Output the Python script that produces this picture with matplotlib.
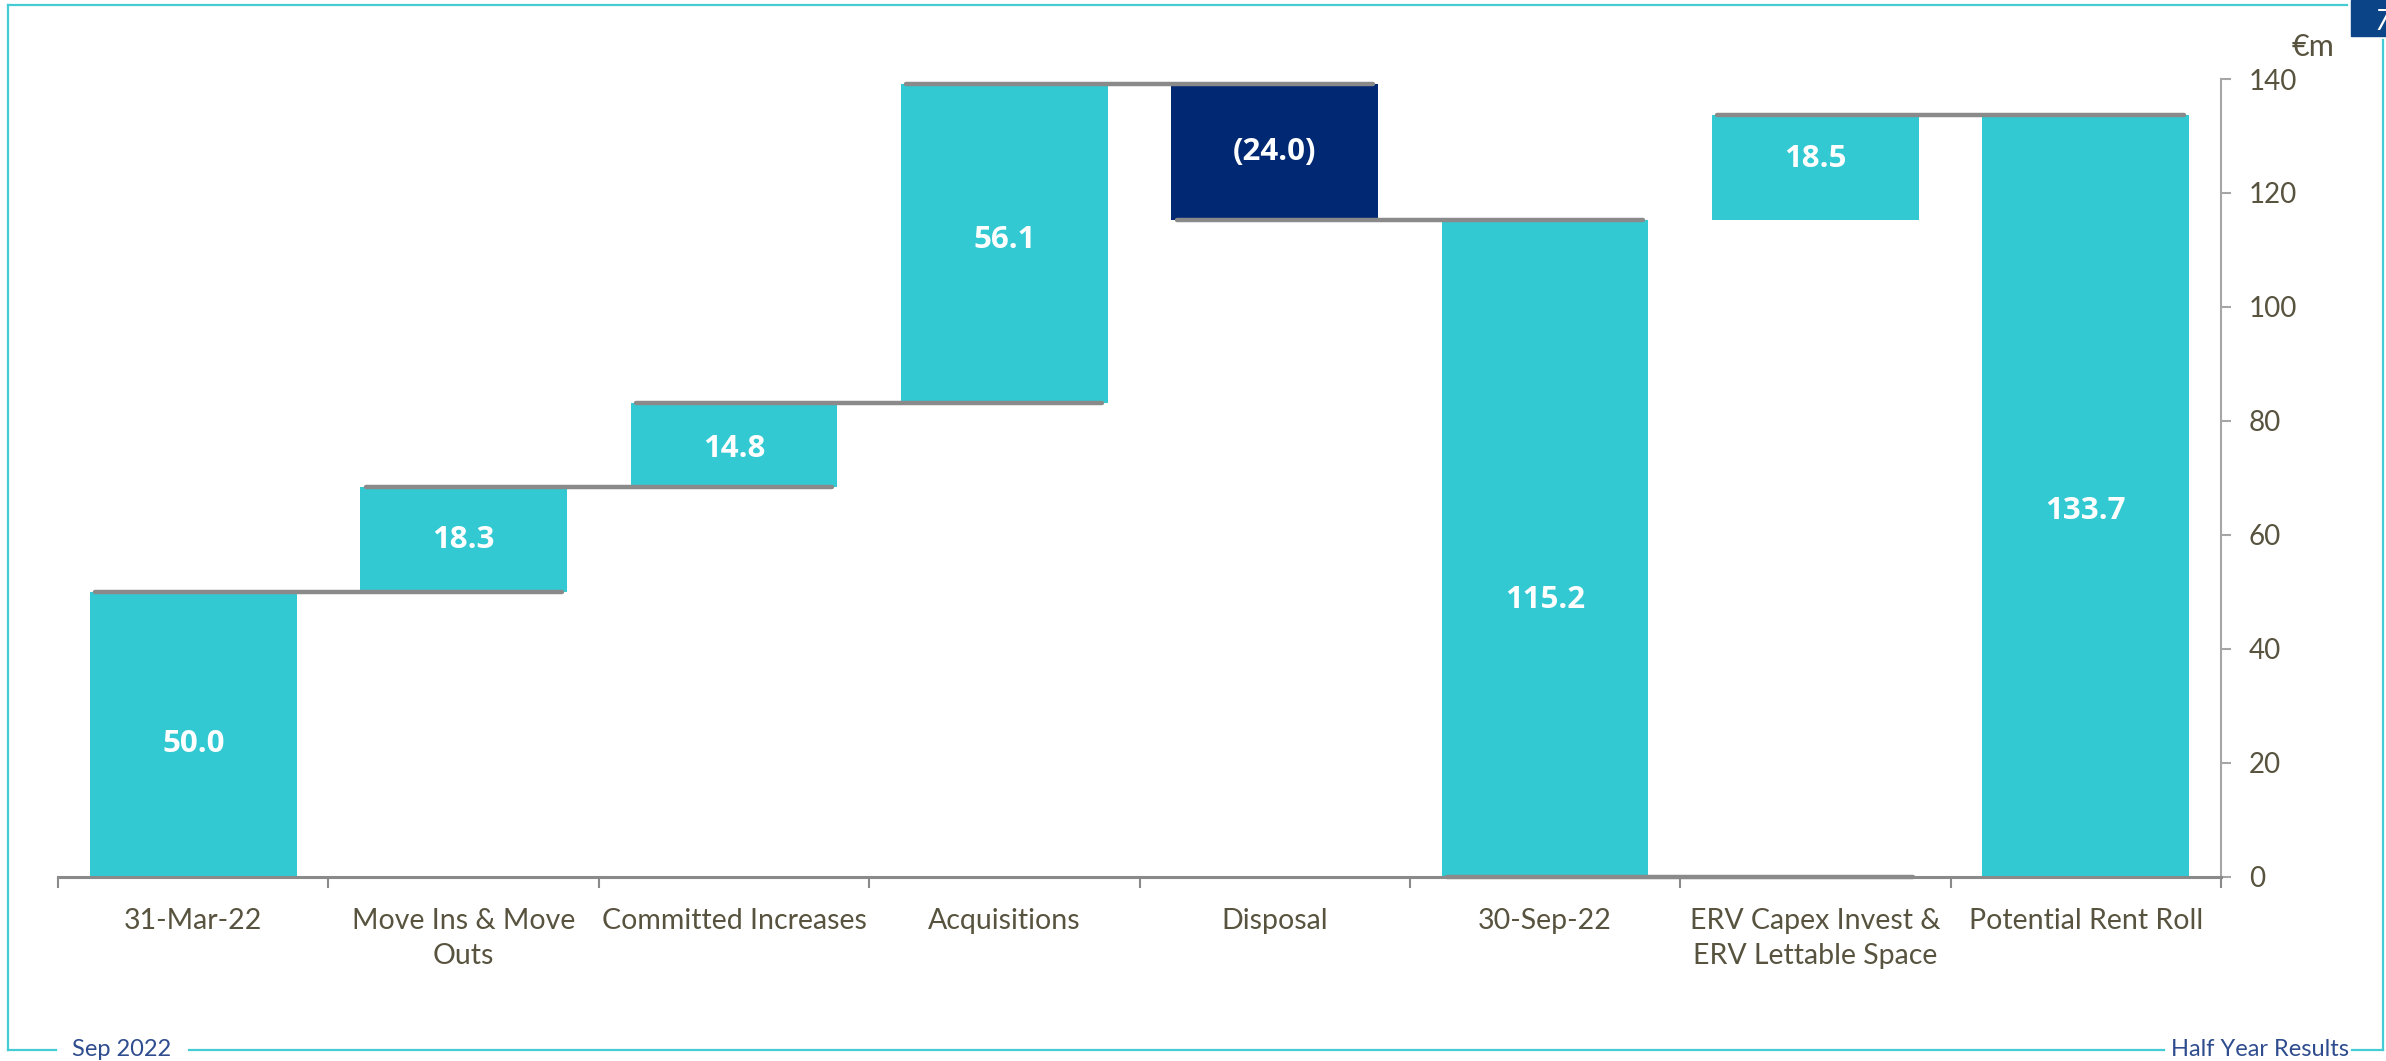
import matplotlib
matplotlib.use("Agg")
import matplotlib.pyplot as plt
from matplotlib import font_manager as fm
from matplotlib.lines import Line2D
from matplotlib.patches import Rectangle
import numpy as np

# ---------------- data ----------------
categories = ["31-Mar-22", "Move Ins & Move\nOuts", "Committed Increases",
              "Acquisitions", "Disposal", "30-Sep-22",
              "ERV Capex Invest &\nERV Lettable Space", "Potential Rent Roll"]
values = [50.0, 18.3, 14.8, 56.1, -24.0, 115.2, 18.5, 133.7]
is_total = [True, False, False, False, False, True, False, True]
connector_levels = [50.0, 68.3, 83.1, 139.2, 115.2, 0.0, 133.7]
y_ticks = [0, 20, 40, 60, 80, 100, 120, 140]
unit_label = "€m"
footer_left = "Sep 2022"
footer_right = "Half Year Results"
page_number = "7"

# ---------------- fonts ----------------
names = {f.name for f in fm.fontManager.ttflist}
light = "Lato" if "Lato" in names else "Open Sans"
boldfam = "Open Sans" if "Open Sans" in names else "DejaVu Sans"
LFAM = [light, "DejaVu Sans"]

W, H = 2386, 1061
fig = plt.figure(figsize=(W / 100, H / 100), dpi=100)

def fx(x):
    return x / W

def fy(y):
    return 1 - y / H

ax_left, ax_right, ax_top, ax_bottom = 58, 2221, 79, 876.5
ax = fig.add_axes([fx(ax_left), fy(ax_bottom), (ax_right - ax_left) / W, (ax_bottom - ax_top) / H])

CYAN = "#33C9D3"
NAVY = "#002873"
GRAY = "#8A8A8A"
TXT = "#57533F"
FRAME = "#45CBD3"
FOOT = "#2F4C8E"

# compute bar bottoms / heights
bottoms, heights = [], []
running = 0.0
for v, tot in zip(values, is_total):
    if tot:
        bottoms.append(0.0)
        heights.append(v)
        running = v
    else:
        if v >= 0:
            bottoms.append(running)
            heights.append(v)
        else:
            bottoms.append(running + v)
            heights.append(-v)
        running += v

colors = [NAVY if (not t and v < 0) else CYAN for v, t in zip(values, is_total)]
x = np.arange(len(values))
bw = 0.765
ax.bar(x, heights, bottom=bottoms, width=bw, color=colors, zorder=2, linewidth=0)

# connectors
inset = 0.02
for i, lvl in enumerate(connector_levels):
    ax.plot([i - bw / 2 + inset, i + 1 + bw / 2 - inset], [lvl, lvl], color=GRAY,
            lw=3.2, solid_capstyle="round", zorder=4, clip_on=False)

# labels
label_dy = [-1.7, 0.0, -0.6, 0.6, 0.0, -9.0, 1.5, -2.7]
for i, v in enumerate(values):
    txt = f"({abs(v):.1f})" if v < 0 else f"{v:.1f}"
    yc = bottoms[i] + heights[i] / 2 + label_dy[i]
    ax.text(i, yc, txt, ha="center", va="center", color="white", fontsize=22.5,
            fontweight="bold", family=[boldfam, "DejaVu Sans"], zorder=5)

ax.set_xlim(-0.5, len(values) - 0.5)
ax.set_ylim(0, 140)

for s in ["top", "left"]:
    ax.spines[s].set_visible(False)
ax.spines["bottom"].set_color(GRAY)
ax.spines["bottom"].set_linewidth(2.2)
ax.spines["right"].set_color("#A6A6A6")
ax.spines["right"].set_linewidth(1.5)

# x ticks: boundaries major, labels minor
ax.set_xticks(np.arange(-0.5, len(values), 1.0))
ax.set_xticklabels([])
ax.tick_params(axis="x", which="major", direction="out", length=8, width=1.5, color=GRAY)
ax.set_xticks(x, minor=True)
ax.set_xticklabels(categories, minor=True, fontsize=20.5, color=TXT, fontweight="normal",
                   family=LFAM, linespacing=1.4, va="top")
ax.tick_params(axis="x", which="minor", length=0, pad=23)

# y ticks on right
ax.yaxis.tick_right()
ax.set_yticks(y_ticks)
ax.set_yticklabels([str(t) for t in y_ticks], fontsize=20, color=TXT, family=LFAM,
                   fontweight="normal")
ax.tick_params(axis="y", direction="out", length=7, width=1.5, color="#A6A6A6", pad=13)

# unit label
fig.text(fx(2313), fy(47), unit_label, ha="center", va="center", fontsize=22, color=TXT,
         family=LFAM, fontweight="normal")

# frame
lw_f = 1.6
def fline(xs, ys):
    fig.add_artist(Line2D([fx(v) for v in xs], [fy(v) for v in ys], color=FRAME, lw=lw_f,
                          transform=fig.transFigure))

fline([8, 2347], [5, 5])
fline([8, 8], [5, 1050])
fline([8, 56], [1050, 1050])
fline([189, 2164], [1050, 1050])
fline([2352, 2383], [1050, 1050])
fline([2383, 2383], [1050, 40])

fig.text(fx(122), fy(1050), footer_left, ha="center", va="center", fontsize=17, color=FOOT,
         family=LFAM, fontweight="normal")
fig.text(fx(2260), fy(1050), footer_right, ha="center", va="center", fontsize=17, color=FOOT,
         family=LFAM, fontweight="normal")

# page tab
fig.add_artist(Rectangle((fx(2351), fy(36)), (2386 - 2351) / W, 36 / H, color="#0B4587",
                         transform=fig.transFigure, zorder=5))
fig.text(fx(2374), fy(22), page_number, ha="left", va="center", fontsize=20, color="white",
         style="italic", family=LFAM, zorder=6)

fig.savefig("out.png", dpi=100)
